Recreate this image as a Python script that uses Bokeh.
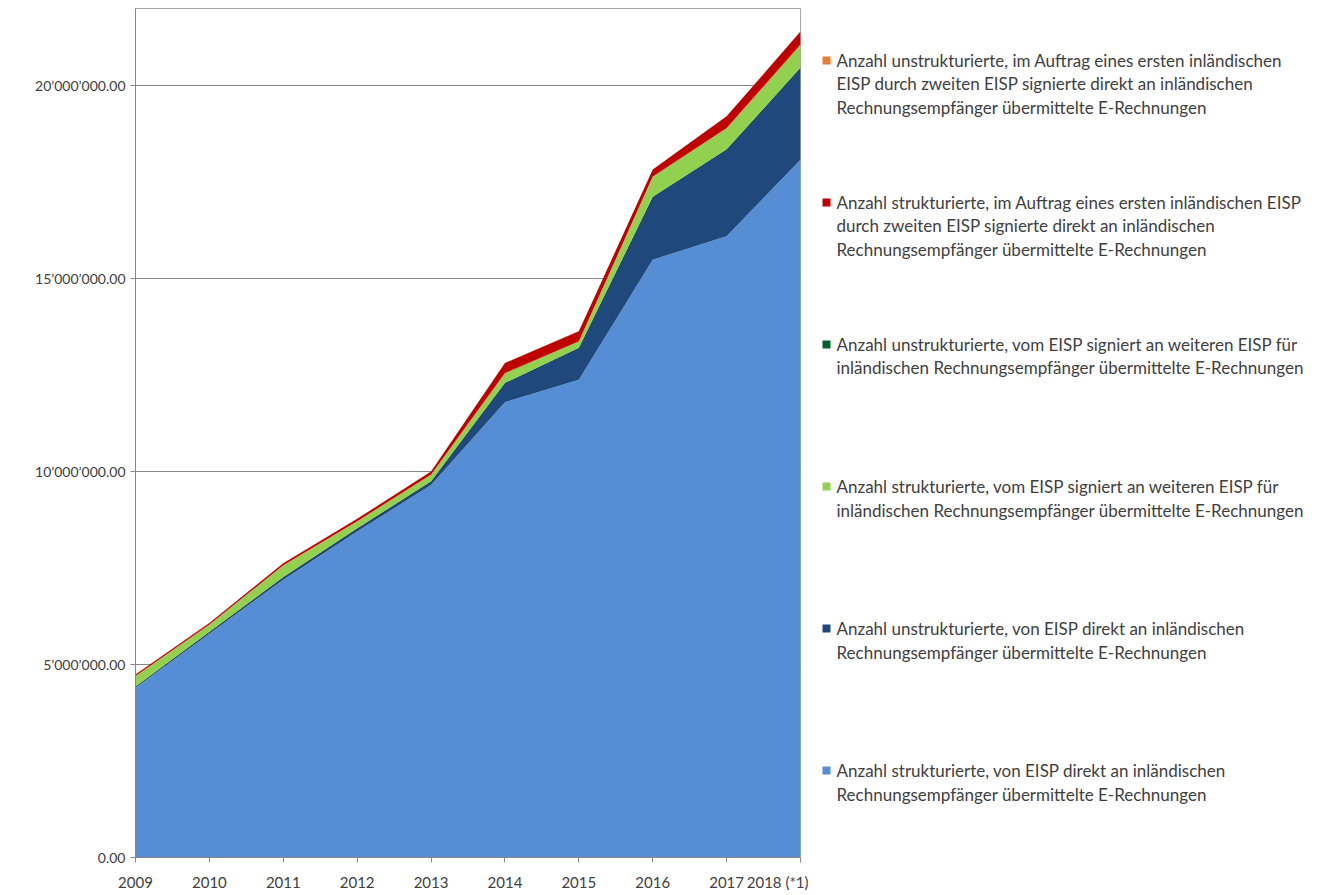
from bokeh.plotting import figure
from bokeh.models import Range1d, CustomJSTickFormatter, FixedTicker, ColumnDataSource
from bokeh.layouts import row
from bokeh.core.properties import value
from bokeh.embed import file_html
from bokeh.resources import INLINE

# ---------------- data ----------------
years = [2009, 2010, 2011, 2012, 2013, 2014, 2015, 2016, 2017, 2018]
year_labels = ["2009", "2010", "2011", "2012", "2013", "2014", "2015", "2016", "2017", "2018 (*1)"]

# stacked bottom -> top
struct_direct = [4400000, 5800000, 7200000, 8450000, 9650000, 11800000, 12380000, 15490000, 16100000, 18080000]
unstruct_direct = [30000, 50000, 70000, 80000, 100000, 500000, 830000, 1630000, 2250000, 2390000]
struct_via_eisp = [270000, 180000, 300000, 180000, 170000, 250000, 160000, 520000, 550000, 590000]
unstruct_via_eisp = [5000, 5000, 5000, 5000, 5000, 5000, 5000, 5000, 5000, 5000]
struct_auftrag = [40000, 40000, 50000, 60000, 80000, 260000, 260000, 180000, 300000, 340000]
unstruct_auftrag = [5000, 5000, 5000, 5000, 5000, 5000, 5000, 5000, 5000, 5000]

series_keys = ["struct_direct", "unstruct_direct", "struct_via_eisp",
               "unstruct_via_eisp", "struct_auftrag", "unstruct_auftrag"]
series_labels = [
    "Anzahl strukturierte, von EISP direkt an inländischen\nRechnungsempfänger übermittelte E-Rechnungen",
    "Anzahl unstrukturierte, von EISP direkt an inländischen\nRechnungsempfänger übermittelte E-Rechnungen",
    "Anzahl strukturierte, vom EISP signiert an weiteren EISP für\ninländischen Rechnungsempfänger übermittelte E-Rechnungen",
    "Anzahl unstrukturierte, vom EISP signiert an weiteren EISP für\ninländischen Rechnungsempfänger übermittelte E-Rechnungen",
    "Anzahl strukturierte, im Auftrag eines ersten inländischen EISP\ndurch zweiten EISP signierte direkt an inländischen\nRechnungsempfänger übermittelte E-Rechnungen",
    "Anzahl unstrukturierte, im Auftrag eines ersten inländischen\nEISP durch zweiten EISP signierte direkt an inländischen\nRechnungsempfänger übermittelte E-Rechnungen",
]
series_colors = ["#558ED5", "#1F497D", "#92D050", "#00612E", "#C00000", "#ED7D31"]

y_ticks = [0, 5000000, 10000000, 15000000, 20000000]

source = ColumnDataSource(dict(
    year=years,
    struct_direct=struct_direct,
    unstruct_direct=unstruct_direct,
    struct_via_eisp=struct_via_eisp,
    unstruct_via_eisp=unstruct_via_eisp,
    struct_auftrag=struct_auftrag,
    unstruct_auftrag=unstruct_auftrag,
))

FONT = "Lato"
TXT = "#404040"
H = 893
FRAME_TOP = 8
FRAME_BOTTOM = 858

# ---------------- main chart ----------------
p = figure(width=808, height=H,
           x_range=Range1d(years[0], years[-1]), y_range=Range1d(0, 22000000),
           output_backend="svg", toolbar_location=None,
           min_border_left=135, min_border_right=8, min_border_top=FRAME_TOP,
           min_border_bottom=H - FRAME_BOTTOM)

p.varea_stack(stackers=series_keys, x="year", color=series_colors, source=source)

p.xaxis.ticker = FixedTicker(ticks=years)
p.xaxis.major_label_overrides = {y: l for y, l in zip(years, year_labels)}
p.yaxis.ticker = FixedTicker(ticks=y_ticks)
p.yaxis.formatter = CustomJSTickFormatter(code=r"""
const s = tick.toFixed(2);
const parts = s.split('.');
parts[0] = parts[0].replace(/\B(?=(\d{3})+(?!\d))/g, "\u2019");
return parts.join('.');
""")

for ax in (p.xaxis, p.yaxis):
    ax.axis_line_color = "#878787"
    ax.major_tick_line_color = "#878787"
    ax.major_tick_in = 0
    ax.major_tick_out = 5
    ax.minor_tick_line_color = None
    ax.major_label_text_font = FONT
    ax.major_label_text_color = TXT
p.xaxis.major_label_text_font_size = "15px"
p.yaxis.major_label_text_font_size = "14px"
p.xaxis.major_label_standoff = 10
p.yaxis.major_label_standoff = 5

p.xgrid.visible = False
p.ygrid.ticker = FixedTicker(ticks=y_ticks)
p.ygrid.grid_line_color = "#878787"
p.outline_line_color = "#A6A6A6"
p.background_fill_color = "white"
p.border_fill_color = "white"

# ---------------- legend panel ----------------
# the row layout aligns this frame with the chart frame, so map page pixels onto it
lg = figure(width=500, height=H, x_range=Range1d(808, 1308),
            y_range=Range1d(FRAME_BOTTOM, FRAME_TOP),
            output_backend="svg", toolbar_location=None, x_axis_type=None, y_axis_type=None,
            min_border_left=0, min_border_right=0, min_border_top=FRAME_TOP,
            min_border_bottom=H - FRAME_BOTTOM)
lg.grid.visible = False
lg.outline_line_color = None

order = list(range(len(series_keys)))[::-1]
first_y = 60
step = 142.2
line_gap = 23.5
ys = [first_y + i * step for i in range(len(order))]
lg.scatter(x=[826] * len(order), y=ys, marker="square", size=8,
           color=[series_colors[k] for k in order], line_color=None)

tx, ty, tt = [], [], []
for i, k in enumerate(order):
    for j, line in enumerate(series_labels[k].split("\n")):
        tx.append(836)
        ty.append(ys[i] + j * line_gap)
        tt.append(line)
lg.text(x=tx, y=ty, text=tt,
        text_font=value(FONT), text_font_size="17px", text_color=TXT,
        text_baseline="middle", text_align="left")

layout = row(p, lg)
open("out.html", "w").write(file_html(layout, INLINE))
